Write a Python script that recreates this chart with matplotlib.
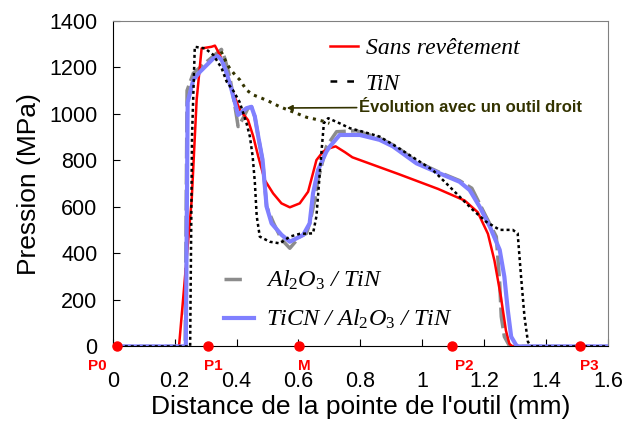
import matplotlib
matplotlib.use("Agg")
import matplotlib.pyplot as plt
from matplotlib.lines import Line2D

plt.rcParams['font.family'] = ['Liberation Sans', 'DejaVu Sans']
plt.rcParams['mathtext.fontset'] = 'custom'
plt.rcParams['mathtext.rm'] = 'Liberation Serif'
plt.rcParams['mathtext.it'] = 'Liberation Serif:italic'

# Sans revetement
red_x = [0.0, 0.214, 0.255, 0.271, 0.287, 0.319, 0.33, 0.346, 0.368, 0.389, 0.411, 0.437,
         0.454, 0.47, 0.491, 0.518, 0.545, 0.572, 0.604, 0.631, 0.658, 0.679, 0.70, 0.72,
         0.75, 0.774, 0.923, 1.051, 1.137, 1.179, 1.212, 1.233, 1.254, 1.27, 1.281, 1.29, 1.6]
red_y = [0, 0, 630, 1060, 1281, 1288, 1293, 1253, 1174, 1088, 1016, 973,
         902, 816, 715, 658, 615, 598, 615, 665, 801, 837, 852, 860,
         835, 813, 741, 677, 627, 577, 484, 369, 212, 69, 12, 0, 0]

# TiN
tin_x = [0.0, 0.25, 0.256, 0.265, 0.298, 0.325, 0.352, 0.368, 0.389, 0.41, 0.432, 0.443,
         0.452, 0.459, 0.465, 0.475, 0.507, 0.54, 0.572, 0.604, 0.647, 0.658, 0.672, 0.682,
         0.696, 0.733, 0.766, 0.808, 0.862, 0.916, 1.034, 1.088, 1.163, 1.206, 1.25, 1.292,
         1.308, 1.319, 1.33, 1.341, 1.35, 1.6]
tin_y = [0, 0, 900, 1288, 1281, 1253, 1195, 1138, 1100, 1050, 960, 902,
         816, 705, 560, 472, 450, 443, 472, 484, 486, 560, 800, 960,
         981, 959, 938, 923, 902, 859, 758, 687, 587, 536, 501, 501,
         486, 300, 128, 21, 0, 0]

# Al2O3 / TiN
al_x = [0.0, 0.234, 0.24, 0.26, 0.30, 0.351, 0.362, 0.378, 0.395, 0.405, 0.421, 0.437,
        0.448, 0.459, 0.47, 0.484, 0.497, 0.52, 0.545, 0.572, 0.604, 0.626, 0.636, 0.653,
        0.663, 0.69, 0.723, 0.787, 0.862, 0.916, 0.981, 1.056, 1.12, 1.16, 1.206, 1.239,
        1.25, 1.255, 1.265, 1.28, 1.29, 1.6]
al_y = [0, 0, 1100, 1174, 1220, 1277, 1238, 1159, 1030, 945, 981, 1024,
        1030, 988, 902, 801, 601, 529, 460, 422, 472, 486, 529, 630,
        715, 859, 923, 927, 895, 859, 795, 748, 713, 680, 558, 472,
        272, 128, 42, 6, 0, 0]

# TiCN / Al2O3 / TiN
ticn_x = [0.0, 0.236, 0.242, 0.26, 0.282, 0.325, 0.339, 0.352, 0.368, 0.384, 0.405, 0.432,
          0.448, 0.459, 0.47, 0.484, 0.497, 0.513, 0.545, 0.572, 0.615, 0.636, 0.647, 0.663,
          0.69, 0.701, 0.733, 0.798, 0.862, 0.905, 0.981, 1.056, 1.12, 1.153, 1.185, 1.218,
          1.25, 1.265, 1.276, 1.287, 1.303, 1.31, 1.6]
ticn_y = [0, 0, 1050, 1145, 1181, 1238, 1248, 1231, 1174, 1102, 995, 1024,
          1030, 988, 902, 801, 601, 529, 480, 450, 479, 529, 658, 758,
          837, 859, 909, 909, 888, 860, 787, 744, 708, 672, 601, 515,
          415, 300, 157, 42, 6, 0, 0]

# Evolution avec un outil droit
evo_x = [0.35, 0.368, 0.378, 0.395, 0.411, 0.432, 0.454, 0.481, 0.507, 0.54, 0.594,
         0.626, 0.65, 0.68, 0.70]
evo_y = [1268, 1217, 1195, 1167, 1145, 1102, 1081, 1067, 1052, 1030, 1002,
         985, 978, 968, 959]

point_x = [0.013, 0.308, 0.602, 1.095, 1.511]
point_names = ['P0', 'P1', 'M', 'P2', 'P3']
label_dx = [-14, 3.6, 3.6, 9, 6.5]

fig = plt.figure(figsize=(6.23, 4.23), dpi=100)
ax = fig.add_axes([0.181, 0.181, 0.795, 0.770])

ax.plot(al_x, al_y, color='#8c8c8c', lw=2.5, dashes=(6, 1.5), zorder=2)
ax.plot(red_x, red_y, color='#ff0000', lw=1.8, zorder=3)
ax.plot(ticn_x, ticn_y, color='#8080ff', lw=3, zorder=4)
ax.plot(tin_x, tin_y, color='black', lw=1.8, dashes=(1.2, 1.2), zorder=5)
ax.plot(evo_x, evo_y, color='#333300', lw=2.2, dashes=(1, 1.6), zorder=5)

ax.plot(point_x, [0] * len(point_x), 'o', color='#ff0000', ms=6.5, clip_on=False, zorder=6)
for px_, name, dx in zip(point_x, point_names, label_dx):
    ax.annotate(name, (px_, 0), xytext=(dx, -9), textcoords='offset points',
                ha='center', va='top', color='#ff0000', fontsize=11,
                fontweight='bold', annotation_clip=False)

ax.annotate('Évolution avec un outil droit', xy=(0.562, 1025), xytext=(0.797, 1029),
            fontsize=12, fontweight='bold', color='#333300', va='center', ha='left',
            arrowprops=dict(arrowstyle='-|>', color='#333300', lw=1.2,
                            mutation_scale=8, shrinkA=0, shrinkB=0))

ax.set_xlim(0, 1.6)
ax.set_ylim(0, 1400)
ax.set_xticks([0, 0.2, 0.4, 0.6, 0.8, 1.0, 1.2, 1.4, 1.6])
ax.set_xticklabels(['0', '0.2', '0.4', '0.6', '0.8', '1', '1.2', '1.4', '1.6'])
ax.set_yticks(range(0, 1401, 200))
ax.tick_params(axis='x', direction='in', length=5, labelsize=15.5, pad=18)
ax.tick_params(axis='y', direction='in', length=5, labelsize=15.5, pad=11)
ax.set_xlabel("Distance de la pointe de l'outil (mm)", fontsize=19, labelpad=2)
ax.set_ylabel('Pression (MPa)', fontsize=19, labelpad=6)
for s in ['top', 'right']:
    ax.spines[s].set_color('#808080')

serif_it = {'family': 'Liberation Serif', 'style': 'italic', 'size': 17}

h1 = [Line2D([], [], color='#ff0000', lw=1.8),
      Line2D([], [], color='black', lw=1.8, dashes=(2.7, 4))]
leg1 = ax.legend(h1, ['Sans revêtement', 'TiN'], loc='upper left',
                 bbox_to_anchor=(0.415, 0.985), frameon=False, prop=serif_it,
                 handlelength=1.2, handletextpad=0.3, labelspacing=0.6, borderpad=0)
ax.add_artist(leg1)

h2 = [Line2D([], [], color='#8c8c8c', lw=2.5, dashes=(5, 10)),
      Line2D([], [], color='#8080ff', lw=3)]
ax.legend(h2, [r'$Al_2O_3$ / $TiN$', r'$TiCN$ / $Al_2O_3$ / $TiN$'], loc='upper left',
          bbox_to_anchor=(0.2, 0.275), frameon=False,
          prop={'family': 'Liberation Serif', 'style': 'italic', 'size': 17.5},
          handlelength=1.23, handletextpad=0.5, labelspacing=0.65, borderpad=0)

fig.savefig('out.png', dpi=100)
